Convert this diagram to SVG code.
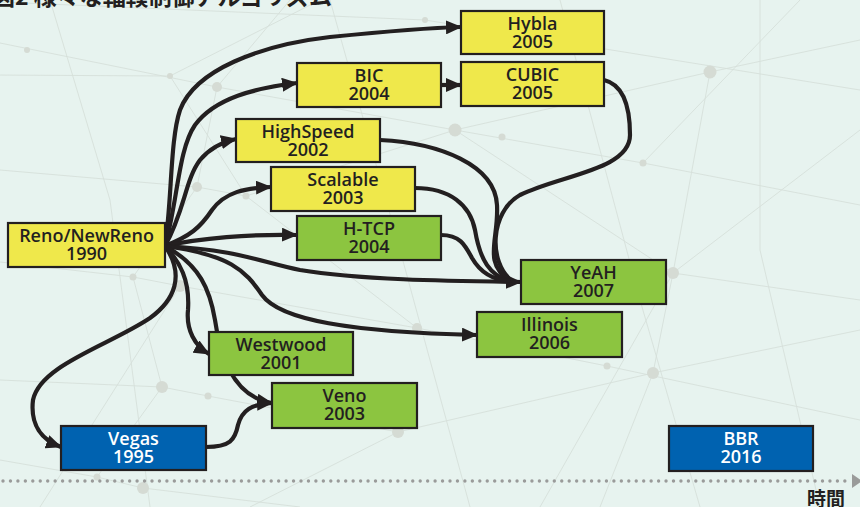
<svg xmlns="http://www.w3.org/2000/svg" width="860" height="507" viewBox="0 0 860 507">
<defs>
<style>
.bgl{stroke:#d6e0da;stroke-width:0.9;fill:none}
.bgd{fill:#d5dbd4}
.box{stroke:#231f20;stroke-width:2.2}
.y{fill:#efe84b}
.g{fill:#8cc540}
.b{fill:#0062b0}
.t{font-family:"Open Sans","Noto Sans",sans-serif;font-weight:600;font-size:18px;text-anchor:middle;fill:#231f20}
.tw{fill:#ffffff}
.c{fill:none;stroke:#231f20;stroke-width:4.2}
.title{font-family:"Noto Sans CJK JP","Noto Sans",sans-serif;font-weight:700;font-size:23px;fill:#231f20}
</style>
<marker id="ah" markerUnits="userSpaceOnUse" viewBox="0 0 16 14" refX="15" refY="7" markerWidth="16" markerHeight="14" orient="auto">
<path d="M0,0 L16,7 L0,14 Z" fill="#231f20"/>
</marker>
</defs>
<rect width="860" height="507" fill="#e7f3ef"/>
<g id="background">
<path class="bgl" d="M0,43 L217,87 L455,130 L643,163 L860,205"/>
<path class="bgl" d="M0,2 L425,20 L860,90"/>
<path class="bgl" d="M-10,75 L170,76 L320,0"/>
<path class="bgl" d="M170,76 L246,196 L417,328 L607,366 L860,420"/>
<path class="bgl" d="M0,170 L197,187 L246,196 L455,130 L710,72 L860,40"/>
<path class="bgl" d="M710,72 L673,273 L653,373 L600,507"/>
<path class="bgl" d="M0,262 L133,277 L180,286 L417,328"/>
<path class="bgl" d="M0,380 L162,387 L208,396 L398,432 L653,373 L860,330"/>
<path class="bgl" d="M97,477 L143,488 L300,507"/>
<path class="bgl" d="M0,460 L97,477 L162,387 L133,277 L197,187 L217,87 L290,0"/>
<path class="bgl" d="M455,130 L673,273 L860,300"/>
<path class="bgl" d="M643,163 L800,0"/>
<path class="bgl" d="M50,0 L110,200 L150,507"/>
<path class="bgl" d="M330,0 L400,250 L470,507"/>
<path class="bgl" d="M560,0 L640,300 L700,507"/>
<path class="bgl" d="M760,0 L760,250 L820,507"/>
<path class="bgl" d="M860,130 L673,273 L540,507"/>
<path class="bgl" d="M180,286 L40,507"/>
<path class="bgl" d="M398,432 L250,507"/>
<circle class="bgd" cx="27" cy="50" r="3"/>
<circle class="bgd" cx="170" cy="76" r="3"/>
<circle class="bgd" cx="217" cy="87" r="5"/>
<circle class="bgd" cx="425" cy="20" r="3"/>
<circle class="bgd" cx="455" cy="130" r="6.5"/>
<circle class="bgd" cx="502" cy="137" r="3.5"/>
<circle class="bgd" cx="710" cy="72" r="6.5"/>
<circle class="bgd" cx="643" cy="163" r="3.5"/>
<circle class="bgd" cx="673" cy="273" r="6"/>
<circle class="bgd" cx="653" cy="373" r="6"/>
<circle class="bgd" cx="607" cy="366" r="3.5"/>
<circle class="bgd" cx="417" cy="328" r="5"/>
<circle class="bgd" cx="398" cy="432" r="6"/>
<circle class="bgd" cx="162" cy="387" r="6"/>
<circle class="bgd" cx="208" cy="396" r="3.5"/>
<circle class="bgd" cx="143" cy="488" r="6"/>
<circle class="bgd" cx="97" cy="477" r="3.5"/>
<circle class="bgd" cx="133" cy="277" r="3.5"/>
<circle class="bgd" cx="180" cy="286" r="6"/>
<circle class="bgd" cx="197" cy="187" r="5"/>
<circle class="bgd" cx="246" cy="196" r="3.5"/>
</g>
<text class="title" x="-8" y="5">図2 様々な輻輳制御アルゴリズム</text>
<g id="timeline">
<line x1="3" y1="481" x2="850" y2="481" stroke="#9a9b9a" stroke-width="3.4" stroke-linecap="round" stroke-dasharray="0 7.45"/>
<path d="M852,474 L862,481 L852,488 Z" fill="#9a9b9a"/>
<text x="807" y="506" style="font-family:'Noto Sans CJK JP',sans-serif;font-weight:700;font-size:19px;fill:#231f20">時間</text>
</g>
<g id="connectors">
<path class="c" marker-end="url(#ah)" d="M165,246 C172,200 170,140 180,110 C195,70 260,45 330,37 C380,32 420,28 461,27"/>
<path class="c" marker-end="url(#ah)" d="M165,246 C178,200 178,150 195,125 C215,98 255,88 297,83"/>
<path class="c" marker-end="url(#ah)" d="M165,246 C185,210 185,180 200,160 C210,148 222,142 236,139"/>
<path class="c" marker-end="url(#ah)" d="M165,246 C190,236 200,228 212,210 C225,192 245,188 271,187"/>
<path class="c" marker-end="url(#ah)" d="M165,246 C200,238 250,234 297,235"/>
<path class="c" marker-end="url(#ah)" d="M165,246 C240,250 260,262 300,270 C360,280 450,281 521,282"/>
<path class="c" marker-end="url(#ah)" d="M165,246 C230,255 245,270 262,295 C280,320 350,332 477,335"/>
<path class="c" marker-end="url(#ah)" d="M165,246 C180,262 190,280 188,310 C186,330 195,346 209,354"/>
<path class="c" marker-end="url(#ah)" d="M165,246 C200,265 210,290 215,320 C222,370 240,398 272,403"/>
<path class="c" marker-end="url(#ah)" d="M165,246 C185,275 175,300 150,318 C110,345 40,365 33,400 C30,425 42,440 61,447"/>
<path class="c" marker-end="url(#ah)" d="M206,447 C230,447 235,440 238,425 C242,410 252,404 272,403"/>
<path class="c" marker-end="url(#ah)" d="M441,85 L461,85"/>
<path class="c" d="M604,80 C625,85 630,110 630,135 C630,170 560,175 520,195 C490,212 488,262 512,281"/>
<path class="c" d="M380,140 C440,143 495,165 497,205 C499,240 482,262 510,281"/>
<path class="c" d="M415,188 C450,188 470,205 475,230 C480,260 490,276 510,281"/>
<path class="c" d="M441,235 C460,235 465,245 472,258 C480,272 492,280 510,281"/>
</g>
<g id="hybla"><rect class="box y" x="461" y="11" width="143" height="43"/><text class="t" x="532.5" y="30">Hybla</text><text class="t" x="532.5" y="48">2005</text></g>
<g id="bic"><rect class="box y" x="297" y="63" width="144" height="44"/><text class="t" x="369" y="82">BIC</text><text class="t" x="369" y="100">2004</text></g>
<g id="cubic"><rect class="box y" x="461" y="62" width="143" height="44"/><text class="t" x="532.5" y="81">CUBIC</text><text class="t" x="532.5" y="99">2005</text></g>
<g id="highspeed"><rect class="box y" x="236" y="119" width="144" height="43"/><text class="t" x="308" y="138">HighSpeed</text><text class="t" x="308" y="156">2002</text></g>
<g id="scalable"><rect class="box y" x="271" y="167" width="144" height="44"/><text class="t" x="343" y="186">Scalable</text><text class="t" x="343" y="204">2003</text></g>
<g id="htcp"><rect class="box g" x="297" y="216" width="144" height="44"/><text class="t" x="369" y="235">H-TCP</text><text class="t" x="369" y="253">2004</text></g>
<g id="reno"><rect class="box y" x="8" y="223" width="157" height="44"/><text class="t" x="86.5" y="242">Reno/NewReno</text><text class="t" x="86.5" y="260">1990</text></g>
<g id="yeah"><rect class="box g" x="521" y="260" width="145" height="44"/><text class="t" x="593.5" y="279">YeAH</text><text class="t" x="593.5" y="297">2007</text></g>
<g id="illinois"><rect class="box g" x="477" y="312" width="145" height="45"/><text class="t" x="549.5" y="331">Illinois</text><text class="t" x="549.5" y="349">2006</text></g>
<g id="westwood"><rect class="box g" x="209" y="332" width="144" height="43"/><text class="t" x="281" y="351">Westwood</text><text class="t" x="281" y="369">2001</text></g>
<g id="veno"><rect class="box g" x="272" y="383" width="145" height="45"/><text class="t" x="344.5" y="402">Veno</text><text class="t" x="344.5" y="420">2003</text></g>
<g id="vegas"><rect class="box b" x="61" y="426" width="145" height="44"/><text class="t tw" x="133.5" y="445">Vegas</text><text class="t tw" x="133.5" y="463">1995</text></g>
<g id="bbr"><rect class="box b" x="669" y="426" width="144" height="45"/><text class="t tw" x="741" y="445">BBR</text><text class="t tw" x="741" y="463">2016</text></g>
</svg>
